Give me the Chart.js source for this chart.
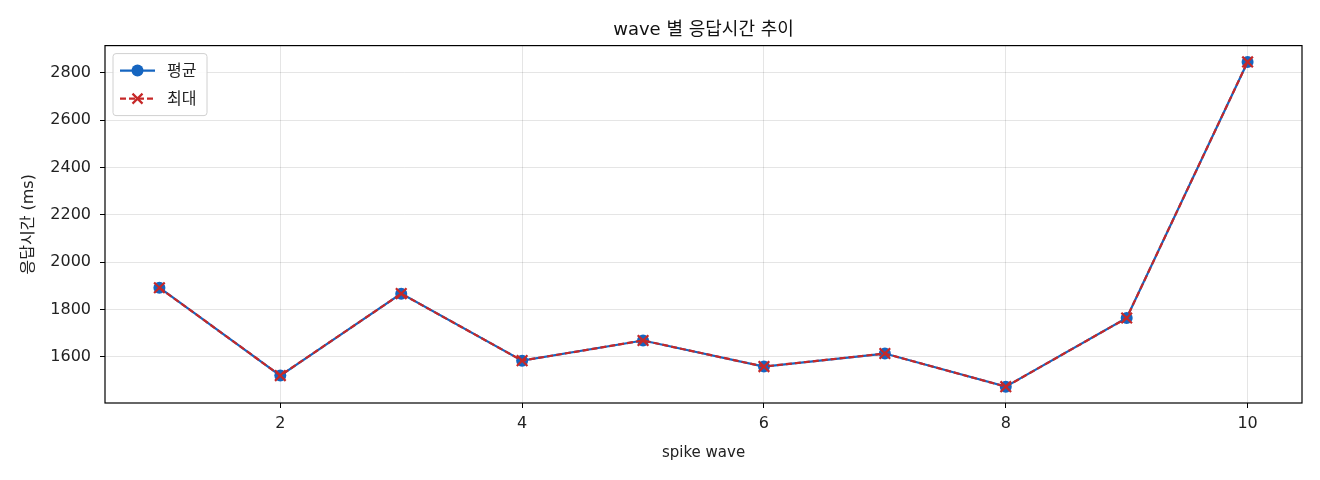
<!DOCTYPE html>
<html>
<head>
<meta charset="utf-8">
<script src="https://cdn.jsdelivr.net/npm/chart.js@4"></script>
<style>
  body { margin: 0; background: #fff; }
  #wrap { width: 1320px; height: 480px; }
</style>
</head>
<body>
<div id="wrap"><canvas id="chart" width="1320" height="480"></canvas></div>
<script>
// data
const waves = [1, 2, 3, 4, 5, 6, 7, 8, 9, 10];
const avgMs = [1892, 1521, 1867, 1584, 1669, 1559, 1614, 1474, 1764, 2846];
const maxMs = [1892, 1521, 1867, 1584, 1669, 1559, 1614, 1474, 1764, 2846];
const xTicks = [2, 4, 6, 8, 10];
const yTicks = [1600, 1800, 2000, 2200, 2400, 2600, 2800];
const seriesNames = ["평균", "최대"];

const FONT = "'DejaVu Sans', 'Noto Sans CJK KR', sans-serif";
const BLUE = "#1565c0";
const RED = "#c62828";

function toPoints(vals) {
  return waves.map((w, i) => ({ x: w, y: vals[i] }));
}

// black box round the plot + legend inside top-left
const framePlugin = {
  id: "frame",
  afterDatasetsDraw(chart) {
    const ctx = chart.ctx;
    const a = chart.chartArea;
    ctx.save();
    ctx.strokeStyle = "#000";
    ctx.lineWidth = 1.2;
    ctx.strokeRect(a.left, a.top, a.right - a.left, a.bottom - a.top);

    // legend
    const bx = a.left + 8, by = a.top + 8, bw = 94, bh = 62;
    ctx.fillStyle = "rgba(255,255,255,0.85)";
    ctx.strokeStyle = "#d0d0d0";
    ctx.lineWidth = 1;
    ctx.beginPath();
    ctx.roundRect(bx, by, bw, bh, 3);
    ctx.fill();
    ctx.stroke();

    const ds = chart.data.datasets;
    const rows = [by + 17, by + 45];
    ds.forEach((d, i) => {
      const y = rows[i];
      ctx.strokeStyle = d.borderColor;
      ctx.lineWidth = 2.2;
      ctx.setLineDash(d.borderDash || []);
      ctx.beginPath();
      ctx.moveTo(bx + 7, y);
      ctx.lineTo(bx + 42, y);
      ctx.stroke();
      ctx.setLineDash([]);
      const cx = bx + 24.5;
      if (d.pointStyle === "circle") {
        ctx.fillStyle = d.pointBackgroundColor;
        ctx.beginPath();
        ctx.arc(cx, y, 6, 0, Math.PI * 2);
        ctx.fill();
      } else {
        ctx.strokeStyle = d.pointBorderColor;
        ctx.lineWidth = 2.2;
        ctx.beginPath();
        ctx.moveTo(cx - 5, y - 5); ctx.lineTo(cx + 5, y + 5);
        ctx.moveTo(cx + 5, y - 5); ctx.lineTo(cx - 5, y + 5);
        ctx.stroke();
      }
      ctx.fillStyle = "#222";
      ctx.font = "16px " + FONT;
      ctx.textBaseline = "middle";
      ctx.fillText(d.label, bx + 54, y + 1);
    });
    ctx.restore();
  }
};

const tickFont = { family: FONT, size: 16 };

new Chart(document.getElementById("chart"), {
  type: "line",
  data: {
    datasets: [
      {
        label: seriesNames[0],
        data: toPoints(avgMs),
        order: 1,
        borderColor: BLUE,
        backgroundColor: BLUE,
        borderWidth: 2.2,
        pointStyle: "circle",
        pointRadius: 6,
        pointBackgroundColor: BLUE,
        pointBorderColor: BLUE,
        pointBorderWidth: 0,
        tension: 0
      },
      {
        label: seriesNames[1],
        data: toPoints(maxMs),
        order: 0,
        borderColor: RED,
        backgroundColor: RED,
        borderWidth: 2.2,
        borderDash: [6, 3],
        pointStyle: "crossRot",
        pointRadius: 7.5,
        pointBorderColor: RED,
        pointBorderWidth: 2.2,
        tension: 0
      }
    ]
  },
  options: {
    responsive: false,
    animation: false,
    events: [],
    layout: { padding: { left: 0, right: 18, top: 0, bottom: 0 } },
    plugins: {
      legend: { display: false },
      tooltip: { enabled: false },
      title: {
        display: true,
        fullSize: false,
        text: "wave 별 응답시간 추이",
        color: "#111",
        font: { family: FONT, size: 18, weight: "normal" },
        padding: { top: 20, bottom: 4 }
      }
    },
    scales: {
      x: {
        type: "linear",
        min: 0.55,
        max: 10.45,
        afterBuildTicks: s => { s.ticks = xTicks.map(v => ({ value: v })); },
        afterFit: s => { s.height = 77; },
        grid: { color: "rgba(0,0,0,0.1)", tickColor: "#000", tickLength: 5, drawTicks: true },
        border: { display: false },
        ticks: { color: "#222", padding: 6, font: tickFont, maxRotation: 0, callback: v => String(v) },
        title: {
          display: true,
          text: "spike wave",
          color: "#222",
          font: { family: FONT, size: 15 },
          padding: { top: 0, bottom: 18 }
        }
      },
      y: {
        type: "linear",
        min: 1405,
        max: 2915,
        afterBuildTicks: s => { s.ticks = yTicks.map(v => ({ value: v })); },
        afterFit: s => { s.width = 105; },
        grid: { color: "rgba(0,0,0,0.1)", tickColor: "#000", tickLength: 5, drawTicks: true },
        border: { display: false },
        ticks: { color: "#222", padding: 9, font: tickFont, callback: v => String(v) },
        title: {
          display: true,
          text: "응답시간 (ms)",
          color: "#222",
          font: { family: FONT, size: 16 },
          padding: { top: 19, bottom: 0 }
        }
      }
    }
  },
  plugins: [framePlugin]
});
</script>
</body>
</html>
